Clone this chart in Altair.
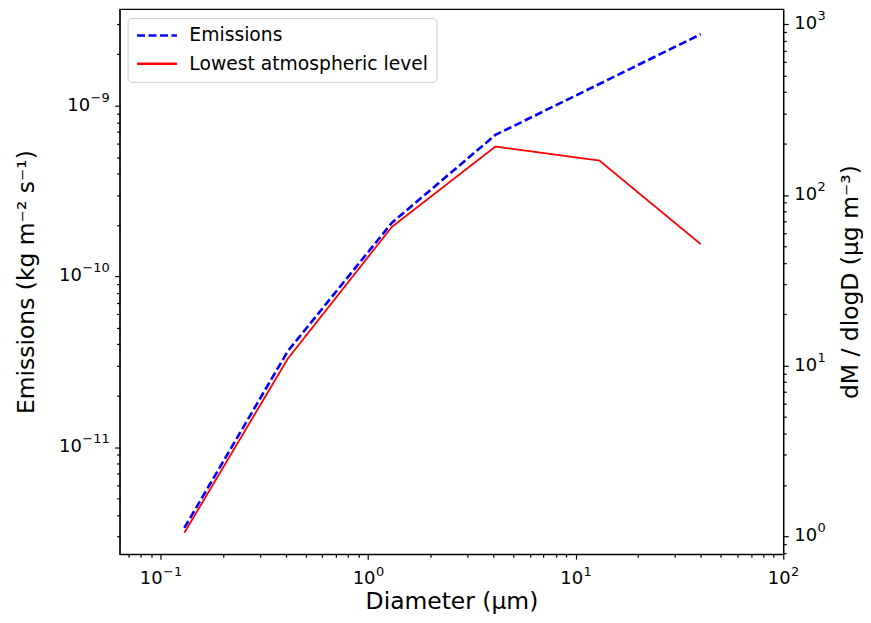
import math
import altair as alt
import pandas as pd

# ---- data ----
diameter = [0.13, 0.41, 1.3, 4.1, 13.0, 40.0]
emissions = [3.36e-12, 3.65e-11, 2.06e-10, 6.74e-10, 1.34e-9, 2.62e-9]
lowest_level = [1.05, 11.0, 65.0, 192.0, 159.0, 51.5]
series_names = ["Emissions", "Lowest atmospheric level"]
series_colors = ["#0000ff", "#ff0000"]

x_domain = [0.0634, 100]
yl_domain = [2.36e-12, 3.68e-9]
yr_domain = [0.787, 1227]

# major tick exponents (labels 10^e)
x_exps = [-1, 0, 1, 2]
yl_exps = [-11, -10, -9]
yr_exps = [0, 1, 2, 3]

FONT = "DejaVu Sans"
W, H = 666, 547
TICK_FS = 18
SUP_FS = 13
TITLE_FS = 23.5
DIG, MINUS = 0.636, 0.838
W10 = 2 * DIG * TICK_FS


def log_ticks(lo, hi):
    vals = []
    for e in range(math.floor(math.log10(lo)), math.ceil(math.log10(hi)) + 1):
        for m in range(1, 10):
            v = float(f"{m}e{e}")
            if lo <= v <= hi * 1.000001:
                vals.append(v)
    return vals


def exp_str(e):
    return ("\u2212" if e < 0 else "") + str(abs(e))


def exp_width(s):
    return sum(MINUS if c == "\u2212" else DIG for c in s) * SUP_FS


L = "round(log(datum.value)/LN10)"
MAJOR = f"abs(log(datum.value)/LN10 - {L}) < 0.000001"


def log_axis(orient, title, values, **kw):
    return alt.Axis(
        orient=orient, title=title, values=values, labels=False,
        tickSize={"condition": {"test": MAJOR, "value": 5}, "value": 3},
        tickColor="black", domainColor="black", titleColor="black",
        titleFont=FONT, titleFontSize=TITLE_FS, titleFontWeight="normal",
        grid=False, tickWidth=1.2, domainWidth=1.2, **kw,
    )


x_scale = alt.Scale(type="log", domain=x_domain, nice=False)
yl_scale = alt.Scale(type="log", domain=yl_domain, nice=False)
yr_scale = alt.Scale(type="log", domain=yr_domain, nice=False)

x_axis = log_axis("bottom", "Diameter (μm)", log_ticks(*x_domain), titlePadding=30)
yl_axis = log_axis("left", "Emissions (kg m⁻² s⁻¹)", log_ticks(*yl_domain), titlePadding=76)
yr_axis = log_axis("right", "dM / dlogD (μg m⁻³)", log_ticks(*yr_domain),
                   titlePadding=50, titleAngle=270, titleBaseline="top")


def X():
    return alt.X("diameter:Q", scale=x_scale, axis=x_axis)


def YL():
    return alt.Y("value:Q", scale=yl_scale, axis=yl_axis)


def YR():
    return alt.Y("value:Q", scale=yr_scale, axis=yr_axis)


legend = alt.Legend(
    title=None, orient="none", legendX=8, legendY=9, fillColor="white",
    strokeColor="#cccccc", cornerRadius=4, padding=8,
    symbolType="M-2.5,0H2.5", symbolSize=256, symbolStrokeWidth=2.5,
    symbolOffset=12, labelOffset=23, labelLimit=500,
    labelFont=FONT, labelFontSize=18.8, labelColor="black", rowPadding=8.5, symbolOpacity=1,
)
color = alt.Color("series:N", scale=alt.Scale(domain=series_names, range=series_colors), legend=legend)
dash = alt.StrokeDash("series:N", scale=alt.Scale(domain=series_names, range=[[8, 3.5], [1, 0]]), legend=legend)

df1 = pd.DataFrame({"diameter": diameter, "value": emissions, "series": series_names[0]})
df2 = pd.DataFrame({"diameter": diameter, "value": lowest_level, "series": series_names[1]})

left_line = alt.Chart(df1).mark_line(strokeWidth=2.6, clip=True).encode(
    x=X(), y=YL(), color=color, strokeDash=dash)
right_line = alt.Chart(df2).mark_line(strokeWidth=1.8, clip=True).encode(
    x=X(), y=YR(), color=color, strokeDash=dash)


def text_layer(df, **mark):
    return alt.Chart(df).mark_text(font=FONT, color="black", **mark)


# tick labels "10" + superscript exponent, one small layer per label
x_label_layers, yl_label_layers, yr_label_layers = [], [], []
for e in x_exps:
    s = exp_str(e)
    d = (W10 - exp_width(s)) / 2
    df = pd.DataFrame({"diameter": [10.0 ** e], "b": ["10"], "s": [s]})
    x_label_layers.append(text_layer(df, align="right", baseline="alphabetic", fontSize=TICK_FS, dx=d).encode(
        x=X(), y=alt.value(H + 30), text="b:N"))
    x_label_layers.append(text_layer(df, align="left", baseline="alphabetic", fontSize=SUP_FS, dx=d + 0.5).encode(
        x=X(), y=alt.value(H + 22), text="s:N"))

for e in yl_exps:
    s = exp_str(e)
    df = pd.DataFrame({"value": [10.0 ** e], "b": ["10"], "s": [s]})
    yl_label_layers.append(text_layer(df, align="right", baseline="middle", fontSize=TICK_FS).encode(
        x=alt.value(-10 - exp_width(s) - 0.5), y=YL(), text="b:N"))
    yl_label_layers.append(text_layer(df, align="right", baseline="middle", fontSize=SUP_FS, dy=-8).encode(
        x=alt.value(-10), y=YL(), text="s:N"))

for e in yr_exps:
    s = exp_str(e)
    df = pd.DataFrame({"value": [10.0 ** e], "b": ["10"], "s": [s]})
    yr_label_layers.append(text_layer(df, align="left", baseline="middle", fontSize=TICK_FS).encode(
        x=alt.value(W + 11), y=YR(), text="b:N"))
    yr_label_layers.append(text_layer(df, align="left", baseline="middle", fontSize=SUP_FS, dy=-8).encode(
        x=alt.value(W + 11 + W10 + 0.5), y=YR(), text="s:N"))

left_group = alt.layer(left_line, *yl_label_layers, *x_label_layers)
right_group = alt.layer(right_line, *yr_label_layers)

chart = alt.layer(left_group, right_group).resolve_scale(y="independent").properties(
    width=W, height=H,
    padding={"left": 112, "top": 0, "right": 80, "bottom": 60},
    autosize=alt.AutoSizeParams(type="none"),
).configure_view(stroke="black", strokeWidth=1.2)

chart.save("out.html", embed_options={"renderer": "svg", "actions": False})
